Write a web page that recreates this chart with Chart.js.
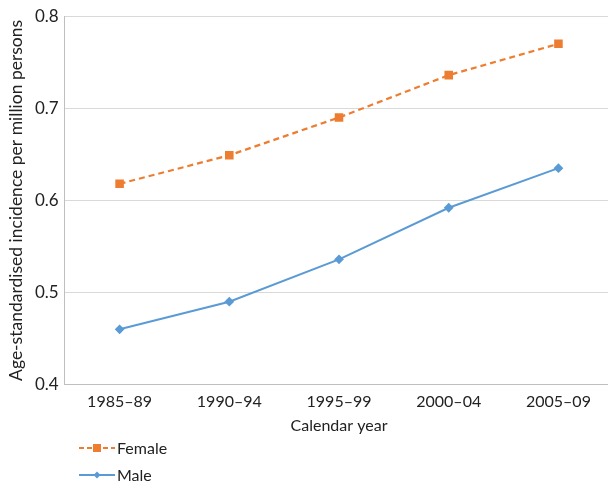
<!DOCTYPE html>
<html><head><meta charset="utf-8">
<script src="https://cdn.jsdelivr.net/npm/chart.js@4.4.1/dist/chart.umd.min.js"></script>
<style>html,body{margin:0;padding:0;background:#fff;overflow:hidden}#wrap{width:620px;height:482px;position:relative}</style>
</head><body><div id="wrap"><canvas id="c"></canvas></div>
<script>
const categories = ['1985–89','1990–94','1995–99','2000–04','2005–09'];
const femaleValues = [0.618, 0.649, 0.690, 0.736, 0.770];
const maleValues = [0.460, 0.490, 0.536, 0.592, 0.635];
const yTicks = [0.4, 0.5, 0.6, 0.7, 0.8];
const seriesNames = ['Female', 'Male'];

const FONT = 'Lato, "Open Sans", sans-serif';
const ORANGE = '#ED7D31', BLUE = '#5B9BD5';

const legendPlugin = {
  id: 'customLegend',
  afterDraw(chart) {
    const ctx = chart.ctx;
    const items = [
      {name: seriesNames[0], color: ORANGE, dash: [5,3], style: 'square', y: 448},
      {name: seriesNames[1], color: BLUE, dash: [], style: 'diamond', y: 475}
    ];
    ctx.save();
    items.forEach(it => {
      ctx.strokeStyle = it.color; ctx.lineWidth = 2; ctx.setLineDash(it.dash);
      ctx.beginPath(); ctx.moveTo(79, it.y); ctx.lineTo(115, it.y); ctx.stroke();
      ctx.setLineDash([]);
      ctx.fillStyle = it.color;
      if (it.style === 'square') { ctx.fillRect(93, it.y-4, 8, 8); }
      else { ctx.beginPath(); ctx.moveTo(97, it.y-3.5); ctx.lineTo(100.5, it.y); ctx.lineTo(97, it.y+3.5); ctx.lineTo(93.5, it.y); ctx.closePath(); ctx.fill(); }
      ctx.fillStyle = '#222'; ctx.font = '16px ' + FONT; ctx.textBaseline = 'middle'; ctx.textAlign = 'left';
      ctx.fillText(it.name, 117, it.y + 1);
    });
    ctx.restore();
  }
};

new Chart(document.getElementById('c'), {
  type: 'line',
  data: {
    labels: categories,
    datasets: [
      {label: seriesNames[0], data: femaleValues, borderColor: ORANGE, backgroundColor: ORANGE, borderWidth: 2.2, borderDash: [6,4], pointStyle: 'rect', pointRadius: 4.5, pointHoverRadius: 4.5, tension: 0},
      {label: seriesNames[1], data: maleValues, borderColor: BLUE, backgroundColor: BLUE, borderWidth: 2, pointStyle: 'rectRot', pointRadius: 3.5, pointHoverRadius: 3.5, tension: 0}
    ]
  },
  options: {
    responsive: true, maintainAspectRatio: false, animation: false,
    layout: {padding: {top: 16, right: 0, bottom: 47, left: 2}},
    plugins: {legend: {display: false}, tooltip: {enabled: false}},
    scales: {
      x: {
        offset: true,
        grid: {display: false, drawTicks: false},
        border: {display: true, color: '#bfbfbf', width: 1},
        ticks: {color: '#222', font: {family: FONT, size: 16}, padding: 8},
        title: {display: true, text: 'Calendar year', color: '#222', font: {family: FONT, size: 16}, padding: {top: -4, bottom: 0}}
      },
      y: {
        min: 0.4, max: 0.8,
        afterBuildTicks: axis => { axis.ticks = yTicks.map(v => ({value: v})); },
        grid: {color: '#d9d9d9', drawTicks: false},
        border: {display: true, color: '#bfbfbf', width: 1},
        ticks: {color: '#222', font: {family: FONT, size: 17}, padding: 6, callback: v => v.toFixed(1)},
        title: {display: true, text: 'Age-standardised incidence per million persons', color: '#222', font: {family: FONT, size: 17.5}, padding: {bottom: 2}}
      }
    }
  },
  plugins: [legendPlugin]
});
</script></body></html>
